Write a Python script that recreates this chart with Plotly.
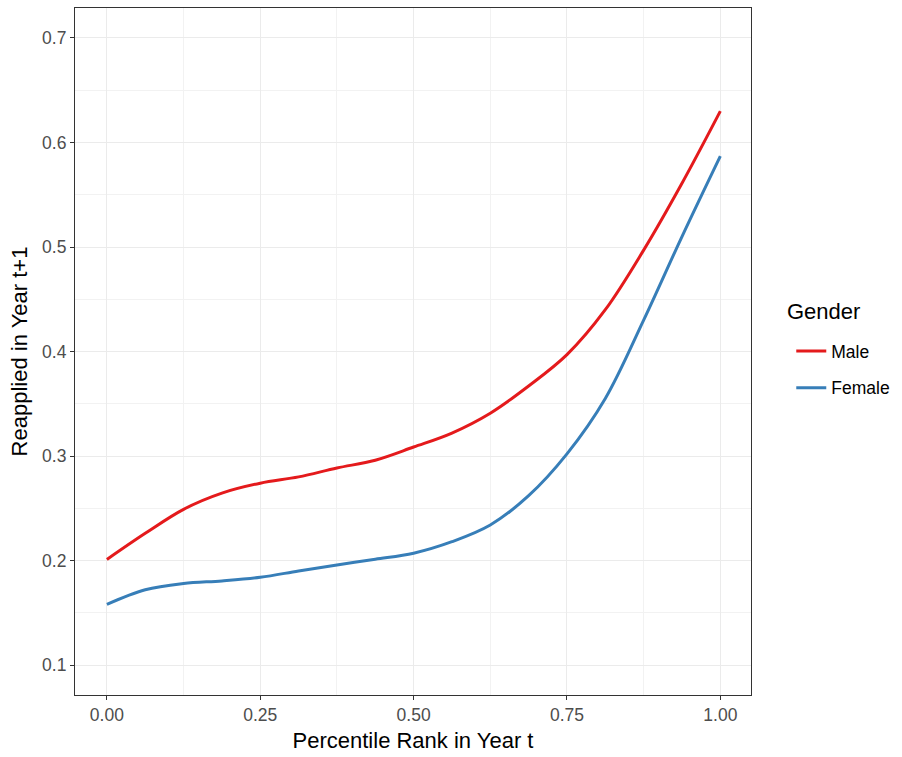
import plotly.graph_objects as go

# Percentile rank grid (year t)
rank = [0.0, 0.0625, 0.125, 0.1875, 0.25, 0.3125, 0.375, 0.4375, 0.5,
        0.5625, 0.625, 0.6875, 0.75, 0.8125, 0.875, 0.9375, 1.0]

# Smoothed share reapplying in year t+1
male = [0.201, 0.226, 0.249, 0.2645, 0.274, 0.280, 0.2885, 0.296, 0.3086,
        0.322, 0.341, 0.367, 0.397, 0.440, 0.497, 0.561, 0.630]
female = [0.158, 0.172, 0.178, 0.1805, 0.184, 0.190, 0.1957, 0.2012, 0.207,
          0.218, 0.234, 0.262, 0.302, 0.355, 0.430, 0.510, 0.587]

series_names = ["Male", "Female"]
series_colors = ["#E41A1C", "#377EB8"]
legend_title = "Gender"

x_ticks = [0.0, 0.25, 0.5, 0.75, 1.0]
y_ticks = [0.1, 0.2, 0.3, 0.4, 0.5, 0.6, 0.7]

FONT = "Liberation Sans, Arial, sans-serif"

fig = go.Figure()
for name, ys, col in zip(series_names, [male, female], series_colors):
    fig.add_trace(go.Scatter(
        x=rank, y=ys, mode="lines", name=name, legendgroup=name,
        line=dict(color=col, width=3, shape="spline", smoothing=1.0),
    ))

axis_common = dict(
    showline=True, mirror=True, linecolor="#333333", linewidth=1.1,
    ticks="outside", ticklen=4, tickwidth=1.1, tickcolor="#333333",
    tickfont=dict(family=FONT, size=17.5, color="#4D4D4D"),
    showgrid=True, gridcolor="#EBEBEB", gridwidth=1.2,
    zeroline=False,
)

fig.update_xaxes(
    **axis_common,
    range=[-0.052, 1.050], tickvals=x_ticks, tickformat=".2f",
    minor=dict(tickvals=[0.125, 0.375, 0.625, 0.875], showgrid=True,
               gridcolor="#F2F2F2", gridwidth=0.7, ticks=""),
    title=dict(text="Percentile Rank in Year t",
               font=dict(family=FONT, size=22, color="#000000"), standoff=8),
)
fig.update_yaxes(
    **axis_common,
    range=[0.0713, 0.7287], tickvals=y_ticks, tickformat=".1f",
    minor=dict(tickvals=[0.15, 0.25, 0.35, 0.45, 0.55, 0.65], showgrid=True,
               gridcolor="#F2F2F2", gridwidth=0.7, ticks=""),
    title=dict(text="Reapplied in Year t+1",
               font=dict(family=FONT, size=22, color="#000000"), standoff=8),
)

# Legend title drawn as its own text so it sits higher above the keys
fig.add_annotation(
    text=legend_title, xref="paper", yref="paper",
    x=1.051, y=(695 - 311) / 687, xanchor="left", yanchor="middle",
    showarrow=False, font=dict(family=FONT, size=22, color="#000000"),
)

fig.update_layout(
    width=902, height=757,
    margin=dict(l=75, r=150, t=8, b=62),
    paper_bgcolor="white", plot_bgcolor="white",
    font=dict(family=FONT),
    legend=dict(
        x=1.058, xanchor="left", y=(695 - 333) / 687, yanchor="top",
        font=dict(family=FONT, size=17.5, color="#000000"),
        tracegroupgap=11, itemwidth=30,
        bgcolor="rgba(0,0,0,0)",
    ),
)

fig.write_html("out.html")
